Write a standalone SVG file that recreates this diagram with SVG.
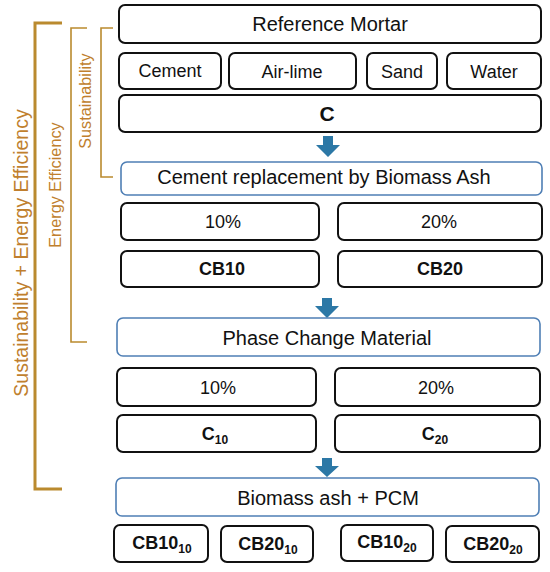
<svg xmlns="http://www.w3.org/2000/svg" width="550" height="572" viewBox="0 0 550 572">
<style>
.b{fill:#fff;stroke:#111;stroke-width:2}
.bl{fill:#fff;stroke:#4F7FB5;stroke-width:1.6}
.t{font-family:"Liberation Sans",Arial,sans-serif;fill:#111;text-anchor:middle}
.n{font-size:18px}
.h{font-size:20px}
.bd{font-weight:bold;font-size:18px}
.sub{font-size:12px}
.br{fill:none;stroke:#BA8A2E}
.bt{font-family:"Liberation Sans",Arial,sans-serif;fill:#C07F2E;text-anchor:middle}
.ar{fill:#2C78A6}
</style>
<rect width="550" height="572" fill="#fff"/>
<g id="brackets">
<path class="br" stroke-width="3" d="M62,23 H35 V489 H62"/>
<path class="br" stroke-width="1.6" d="M87,28 H71 V342 H87"/>
<path class="br" stroke-width="1.6" d="M113,28 H101 V177 H113"/>
<text class="bt" font-size="19.5" transform="translate(28,253) rotate(-90)">Sustainability + Energy Efficiency</text>
<text class="bt" font-size="16.3" transform="translate(61,185) rotate(-90)">Energy Efficiency</text>
<text class="bt" font-size="16.2" transform="translate(91,101) rotate(-90)">Sustainability</text>
</g>
<g id="connectors">
<path class="ar" d="M323,136 H333 V145 H340 L328,157 L316,145 H323 Z"/>
<path class="ar" d="M322,298 H332 V306 H339 L327,318 L315,306 H322 Z"/>
<path class="ar" d="M322,458 H332 V466 H339 L327,477 L315,466 H322 Z"/>
</g>
<g id="reference-mortar"><rect class="b" x="119" y="5" width="422" height="38" rx="6"/><text class="t h" x="330" y="31">Reference Mortar</text></g>
<g id="cement"><rect class="b" x="119" y="53" width="102" height="36" rx="6"/><text class="t n" x="170" y="77">Cement</text></g>
<g id="air-lime"><rect class="b" x="229" y="53" width="127" height="36" rx="6"/><text class="t n" x="292" y="78">Air-lime</text></g>
<g id="sand"><rect class="b" x="367" y="53" width="70" height="36" rx="6"/><text class="t n" x="402" y="78">Sand</text></g>
<g id="water"><rect class="b" x="447" y="53" width="94" height="36" rx="6"/><text class="t n" x="494" y="78">Water</text></g>
<g id="c"><rect class="b" x="119" y="95" width="422" height="37" rx="6"/><text class="t" font-size="21" font-weight="bold" x="327" y="121">C</text></g>
<g id="biomass-ash"><rect class="bl" x="121" y="162" width="421" height="33" rx="6"/><text class="t h" x="324" y="184">Cement replacement by Biomass Ash</text></g>
<g id="ba10"><rect class="b" x="121" y="203" width="198" height="37" rx="6"/><text class="t n" x="223" y="228">10%</text></g>
<g id="ba20"><rect class="b" x="338" y="203" width="204" height="37" rx="6"/><text class="t n" x="439" y="228">20%</text></g>
<g id="cb10"><rect class="b" x="121" y="251" width="198" height="36" rx="6"/><text class="t bd" x="222" y="275">CB10</text></g>
<g id="cb20"><rect class="b" x="338" y="251" width="204" height="36" rx="6"/><text class="t bd" x="440" y="275">CB20</text></g>
<g id="pcm"><rect class="bl" x="117" y="318" width="423" height="38" rx="6"/><text class="t h" x="327" y="345">Phase Change Material</text></g>
<g id="pcm10"><rect class="b" x="117" y="368" width="199" height="38" rx="6"/><text class="t n" x="218" y="394">10%</text></g>
<g id="pcm20"><rect class="b" x="335" y="368" width="205" height="38" rx="6"/><text class="t n" x="436" y="394">20%</text></g>
<g id="c10"><rect class="b" x="117" y="415" width="199" height="37" rx="6"/><text class="t bd" x="215" y="440">C<tspan class="sub" dy="4">10</tspan></text></g>
<g id="c20"><rect class="b" x="335" y="415" width="205" height="37" rx="6"/><text class="t bd" x="435" y="440">C<tspan class="sub" dy="4">20</tspan></text></g>
<g id="ba-pcm"><rect class="bl" x="116" y="478" width="423" height="38" rx="6"/><text class="t h" x="328" y="505">Biomass ash + PCM</text></g>
<g id="cb10-10"><rect class="b" x="114" y="525" width="94" height="37" rx="6"/><text class="t bd" x="162" y="549">CB10<tspan class="sub" dy="4">10</tspan></text></g>
<g id="cb20-10"><rect class="b" x="221" y="526" width="92" height="36" rx="6"/><text class="t bd" x="268" y="550">CB20<tspan class="sub" dy="4">10</tspan></text></g>
<g id="cb10-20"><rect class="b" x="341" y="525" width="92" height="36" rx="6"/><text class="t bd" x="387" y="548">CB10<tspan class="sub" dy="4">20</tspan></text></g>
<g id="cb20-20"><rect class="b" x="446" y="526" width="93" height="36" rx="6"/><text class="t bd" x="493" y="550">CB20<tspan class="sub" dy="4">20</tspan></text></g>
</svg>
